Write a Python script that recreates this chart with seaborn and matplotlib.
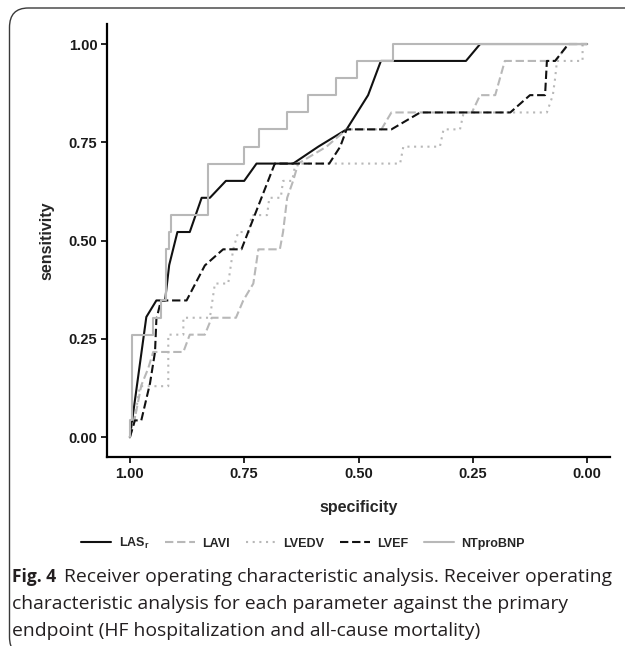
import matplotlib
matplotlib.use("Agg")
import matplotlib.pyplot as plt
from matplotlib.lines import Line2D
from matplotlib.patches import FancyBboxPatch
import pandas as pd
import seaborn as sns

# ROC curves (specificity, sensitivity)
las_spec = [1.0, 0.964, 0.942, 0.923, 0.914, 0.896, 0.869, 0.843, 0.825, 0.79, 0.75, 0.723,
            0.643, 0.588, 0.526, 0.479, 0.451, 0.265, 0.234, 0.0]
las_sens = [0.0, 0.306, 0.348, 0.348, 0.438, 0.522, 0.522, 0.609, 0.609, 0.652, 0.652, 0.696,
            0.696, 0.739, 0.783, 0.87, 0.957, 0.957, 1.0, 1.0]

lavi_spec = [1.0, 0.99, 0.975, 0.96, 0.949, 0.883, 0.869, 0.836, 0.821, 0.768, 0.752, 0.73,
             0.719, 0.672, 0.665, 0.656, 0.643, 0.632, 0.57, 0.526, 0.45, 0.428, 0.252, 0.234,
             0.201, 0.18, 0.07, 0.04, 0.0]
lavi_sens = [0.0, 0.043, 0.132, 0.175, 0.217, 0.217, 0.261, 0.261, 0.304, 0.304, 0.348, 0.391,
             0.478, 0.478, 0.522, 0.609, 0.652, 0.696, 0.739, 0.783, 0.783, 0.826, 0.826, 0.87,
             0.87, 0.957, 0.957, 1.0, 1.0]

lvedv_spec = [1.0, 0.99, 0.978, 0.916, 0.916, 0.883, 0.883, 0.825, 0.814, 0.785, 0.774, 0.763,
              0.739, 0.734, 0.7, 0.695, 0.67, 0.665, 0.645, 0.638, 0.409, 0.402, 0.322, 0.314,
              0.278, 0.27, 0.088, 0.075, 0.07, 0.066, 0.01, 0.01, 0.0]
lvedv_sens = [0.0, 0.043, 0.13, 0.13, 0.261, 0.261, 0.304, 0.304, 0.391, 0.391, 0.478, 0.522,
              0.522, 0.565, 0.565, 0.609, 0.609, 0.652, 0.652, 0.696, 0.696, 0.739, 0.739, 0.783,
              0.783, 0.826, 0.826, 0.87, 0.913, 0.957, 0.957, 1.0, 1.0]

lvef_spec = [1.0, 0.989, 0.975, 0.956, 0.945, 0.942, 0.932, 0.876, 0.836, 0.796, 0.756, 0.737,
             0.683, 0.564, 0.54, 0.526, 0.428, 0.365, 0.168, 0.125, 0.092, 0.088, 0.07, 0.041, 0.0]
lvef_sens = [0.0, 0.043, 0.043, 0.137, 0.217, 0.30, 0.348, 0.348, 0.437, 0.478, 0.478, 0.535,
             0.696, 0.696, 0.739, 0.783, 0.783, 0.826, 0.826, 0.87, 0.87, 0.957, 0.957, 1.0, 1.0]

bnp_spec = [1.0, 1.0, 0.995, 0.995, 0.949, 0.949, 0.931, 0.931, 0.92, 0.92, 0.914, 0.914, 0.909,
            0.909, 0.829, 0.829, 0.75, 0.75, 0.717, 0.717, 0.657, 0.657, 0.61, 0.61, 0.55, 0.55,
            0.503, 0.503, 0.425, 0.425, 0.0]
bnp_sens = [0.0, 0.043, 0.043, 0.261, 0.261, 0.304, 0.304, 0.348, 0.348, 0.478, 0.478, 0.522,
            0.522, 0.565, 0.565, 0.696, 0.696, 0.739, 0.739, 0.783, 0.783, 0.826, 0.826, 0.87,
            0.87, 0.913, 0.913, 0.957, 0.957, 1.0, 1.0]

labels = [r"LAS$_\mathbf{r}$", "LAVI", "LVEDV", "LVEF", "NTproBNP"]
x_ticks = [1.00, 0.75, 0.50, 0.25, 0.00]
y_ticks = [0.00, 0.25, 0.50, 0.75, 1.00]

BLACK = "#111111"
GREY = "#b8b8b8"

styles = [
    dict(color=BLACK, dashes=None),
    dict(color=GREY, dashes=(4, 1.8)),
    dict(color=GREY, dashes=(1, 2.2)),
    dict(color=BLACK, dashes=(4, 1.8)),
    dict(color=GREY, dashes=None),
]

sns.set_theme(style="white")
plt.rcParams["font.family"] = ["Liberation Sans", "DejaVu Sans"]
plt.rcParams["mathtext.fontset"] = "custom"
plt.rcParams["mathtext.rm"] = "Liberation Sans"
plt.rcParams["mathtext.bf"] = "Liberation Sans:bold"

fig = plt.figure(figsize=(6.25, 6.46), dpi=100, facecolor="white")
ax = fig.add_axes([0.1712, 0.2926, 0.8048, 0.6697])

series = [
    (las_spec, las_sens), (lavi_spec, lavi_sens), (lvedv_spec, lvedv_sens),
    (lvef_spec, lvef_sens), (bnp_spec, bnp_sens),
]
handles = []
for (spec, sens), lab, st in zip(series, labels, styles):
    df = pd.DataFrame({"specificity": spec, "sensitivity": sens})
    sns.lineplot(data=df, x="specificity", y="sensitivity", sort=False, estimator=None,
                 color=st["color"], linewidth=1.5, ax=ax, legend=False)
    line = ax.lines[-1]
    h = Line2D([], [], color=st["color"], linewidth=1.5)
    if st["dashes"] is not None:
        line.set_dashes(st["dashes"])
        h.set_dashes(st["dashes"])
    handles.append(h)

ax.set_xlim(1.05, -0.05)
ax.set_ylim(-0.05, 1.05)
ax.set_xticks(x_ticks)
ax.set_xticklabels([f"{t:.2f}" for t in x_ticks])
ax.set_yticks(y_ticks)
ax.set_yticklabels([f"{t:.2f}" for t in y_ticks])
for lab in ax.get_xticklabels() + ax.get_yticklabels():
    lab.set_fontweight("bold")
    lab.set_fontsize(10.5)
    lab.set_color("#1a1a1a")
ax.tick_params(axis="both", length=4, width=1.2, color="black", pad=3, direction="out",
               bottom=True, left=True)
for side in ["top", "right"]:
    ax.spines[side].set_visible(False)
for side in ["left", "bottom"]:
    ax.spines[side].set_color("black")
    ax.spines[side].set_linewidth(1.6)
ax.set_xlabel("specificity", fontsize=11.5, fontweight="bold", labelpad=14)
ax.set_ylabel("sensitivity", fontsize=11.5, fontweight="bold", labelpad=10)
ax.grid(False)

fig.legend(handles, labels, loc="center", bbox_to_anchor=(0.485, 0.159), ncol=5,
           frameon=False, handlelength=2.4, columnspacing=1.25, handletextpad=0.6,
           prop={"weight": "bold", "size": 9})

# caption
cap_kw = dict(color="#231f20", family=["Open Sans", "DejaVu Sans"], va="center")
fig.text(12 / 625, 1 - 577 / 646, "Fig. 4", fontweight="bold", fontsize=12.5, **cap_kw)
fig.text(64 / 625, 1 - 577 / 646,
         "Receiver operating characteristic analysis. Receiver operating", fontsize=13.9, **cap_kw)
fig.text(12 / 625, 1 - 604 / 646,
         "characteristic analysis for each parameter against the primary", fontsize=13.9, **cap_kw)
fig.text(12 / 625, 1 - 631 / 646,
         "endpoint (HF hospitalization and all-cause mortality)", fontsize=13.9, **cap_kw)

frame = FancyBboxPatch((9.5 / 625, -0.016), 1.2, 1 - 8 / 646 + 0.016,
                       boxstyle="round,pad=0,rounding_size=0.03", transform=fig.transFigure,
                       facecolor="none", edgecolor="#3a3a3a", linewidth=1.0, clip_on=False)
fig.patches.append(frame)

fig.savefig("out.png", dpi=100, facecolor="white")
